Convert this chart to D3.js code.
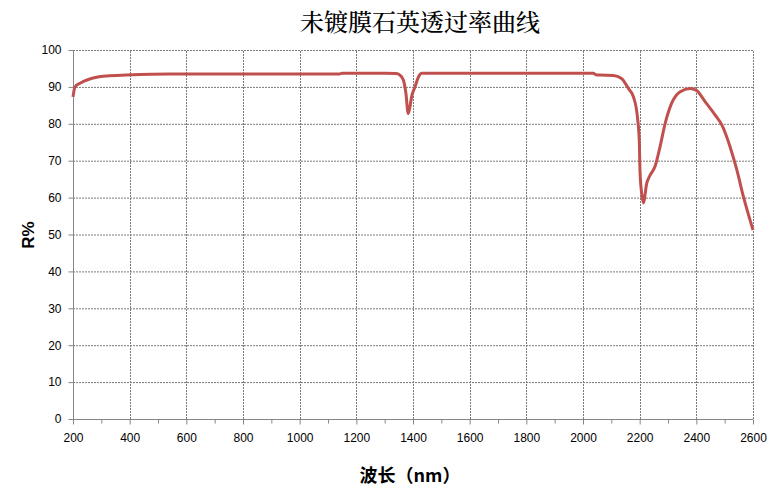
<!DOCTYPE html>
<html><head><meta charset="utf-8">
<script src="https://cdn.jsdelivr.net/npm/d3@7"></script>
<style>
body{margin:0;background:#fff;}
svg{display:block;}
</style></head>
<body>
<svg id="c" width="776" height="488"></svg>
<script>
const title = "未镀膜石英透过率曲线";
const xLabel = "波长（nm）";
const yLabel = "R%";
const xTicks = [200,400,600,800,1000,1200,1400,1600,1800,2000,2200,2400,2600];
const yTicks = [0,10,20,30,40,50,60,70,80,90,100];
const wavelength = [200,207,225,254,283,319,389,542,800,1140,1150,1300,1340,1354,1366,1375,1383,1389,1395,1407,1420,1431,1500,1800,2037,2045,2060,2107,2136,2160,2178,2192,2199,2201,2207,2213,2225,2237,2254,2272,2290,2313,2343,2378,2401,2431,2466,2490,2519,2543,2566,2600];
const reflect = [87.3,90,91,92,92.6,92.95,93.2,93.5,93.5,93.5,93.7,93.7,93.6,93.2,91.9,88.3,82.8,84.5,87.3,90,92.8,93.7,93.7,93.7,93.7,93.3,93.2,93.1,92.3,89.6,87.3,81.9,74.7,67.5,61.2,58.6,63.9,66.1,68.4,73.8,80.1,85.6,88.7,89.6,89.0,86.0,82.4,79.7,73.8,67.5,60.3,51.2];

const svg = d3.select("#c");
const m = {l:73, r:23, t:50, b:69};
const W = 776, H = 488;
const x = d3.scaleLinear().domain([200,2600]).range([m.l, W-m.r]);
const y = d3.scaleLinear().domain([0,100]).range([H-m.b, m.t]);

// grid
const g = svg.append("g");
g.selectAll("line.hg").data(yTicks.filter(d=>d>0)).join("line")
  .attr("x1", x(200)).attr("x2", x(2600))
  .attr("y1", d=>y(d)+0.5).attr("y2", d=>y(d)+0.5)
  .attr("stroke","#7a7a7a").attr("stroke-dasharray","2,1").attr("stroke-width",1);
g.selectAll("line.vg").data(xTicks.filter(d=>d>200)).join("line")
  .attr("y1", y(0)).attr("y2", y(100))
  .attr("x1", d=>Math.round(x(d))+0.5).attr("x2", d=>Math.round(x(d))+0.5)
  .attr("stroke","#7a7a7a").attr("stroke-dasharray","2,1").attr("stroke-width",1);

// axes
const xAxis = d3.axisBottom(x).tickValues(xTicks).tickSize(5).tickPadding(9).tickFormat(d3.format("d"));
const xMinor = d3.axisBottom(x).tickValues(d3.range(300,2600,200)).tickSize(4).tickFormat("");
const yAxis = d3.axisLeft(y).tickValues(yTicks).tickSize(5).tickPadding(7);

function style(sel){
  sel.select(".domain").attr("stroke","#868686");
  sel.selectAll(".tick line").attr("stroke","#868686");
  sel.selectAll("text").attr("fill","#000").style("font-family","'Liberation Sans', Arial, sans-serif").style("font-size","12px");
}
svg.append("g").attr("transform",`translate(0,${y(0)+0.5})`).call(xAxis).call(style).call(s=>s.select(".domain").attr("d",`M${x(200)},0H${x(2600)}`));
svg.append("g").attr("transform",`translate(0,${y(0)+0.5})`).call(xMinor).call(style).call(s=>s.select(".domain").remove());
svg.append("g").attr("transform",`translate(${m.l+0.5},0)`).call(yAxis).call(style).call(s=>s.select(".domain").attr("d",`M0,${y(0)}V${y(100)}`));

// line
const line = d3.line().x((d,i)=>x(wavelength[i])).y(d=>y(d)).curve(d3.curveMonotoneX);
svg.append("path").datum(reflect).attr("d", line)
  .attr("fill","none").attr("stroke","#C0504D").attr("stroke-width",3).attr("stroke-linejoin","round");

// labels
svg.append("text").attr("x",420).attr("y",31).attr("text-anchor","middle")
  .style("font-family","'Noto Serif CJK SC','Noto Sans CJK SC',serif").style("font-size","24px").style("font-weight","500").text(title);
svg.append("text").attr("x",410).attr("y",482).attr("text-anchor","middle")
  .style("font-family","'Noto Sans CJK SC',sans-serif").style("font-size","18px").style("font-weight","bold").text(xLabel);
svg.append("text").attr("transform","translate(34,235) rotate(-90)").attr("text-anchor","middle")
  .style("font-family","'Liberation Sans',Arial,sans-serif").style("font-size","17px").style("font-weight","bold").text(yLabel);
</script>
</body></html>
